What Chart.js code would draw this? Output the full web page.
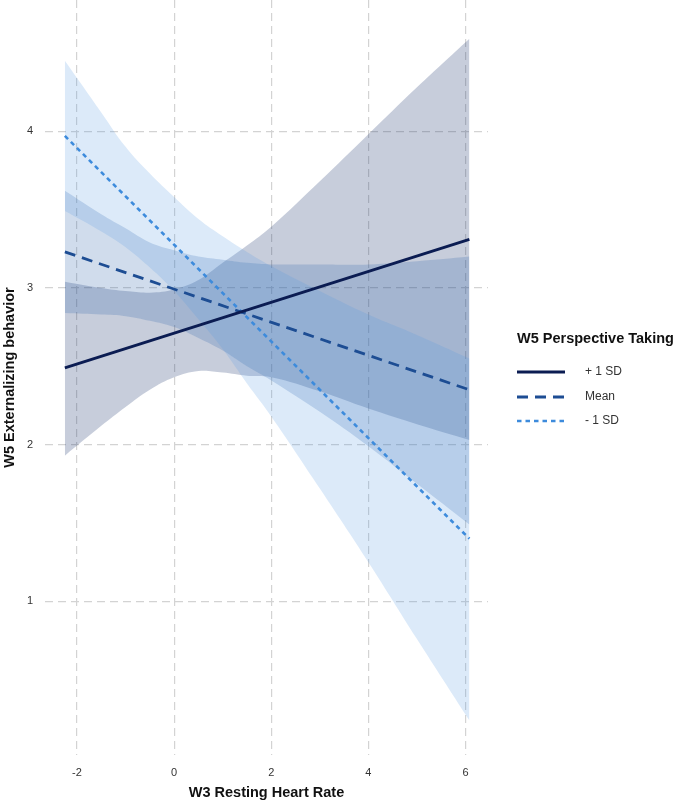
<!DOCTYPE html>
<html>
<head>
<meta charset="utf-8">
<script src="https://cdn.jsdelivr.net/npm/chart.js@4.4.1/dist/chart.umd.min.js"></script>
<style>
  html, body { margin: 0; padding: 0; background: #fff; }
  #wrap { width: 685px; height: 805px; }
</style>
</head>
<body>
<div id="wrap"><canvas id="chart" width="685" height="805"></canvas></div>
<script>
// axis ticks
const xTicks = [-2, 0, 2, 4, 6];
const yTicks = [1, 2, 3, 4];

const bandX = [-2.25, -1.5, -1, -0.5, 0, 0.5, 1, 1.5, 2, 3, 4, 5, 6.08];

// + 1 SD ribbon
const plusUpper = [3.04, 3.00, 2.98, 2.97, 2.99, 3.05, 3.16, 3.27, 3.39, 3.68, 3.98, 4.28, 4.59];
const plusLower = [1.93, 2.12, 2.24, 2.35, 2.43, 2.47, 2.46, 2.44, 2.43, 2.34, 2.23, 2.13, 2.03];
// Mean ribbon
const meanUpper = [3.62, 3.47, 3.38, 3.29, 3.24, 3.20, 3.18, 3.16, 3.15, 3.15, 3.15, 3.17, 3.20];
const meanLower = [2.84, 2.83, 2.82, 2.79, 2.75, 2.68, 2.60, 2.50, 2.41, 2.21, 1.99, 1.75, 1.49];
// - 1 SD ribbon
const minusUpper = [4.45, 4.12, 3.90, 3.73, 3.58, 3.44, 3.33, 3.23, 3.14, 2.98, 2.83, 2.70, 2.55];
const minusLower = [3.49, 3.36, 3.26, 3.13, 2.98, 2.80, 2.61, 2.39, 2.18, 1.72, 1.25, 0.76, 0.24];

// fitted lines (endpoints)
const lineX = [-2.25, 6.08];
const plusLine = [2.49, 3.31];
const meanLine = [3.23, 2.35];
const minusLine = [3.97, 1.40];

const groups = ['+ 1 SD', 'Mean', '- 1 SD'];
const legendTitle = 'W5 Perspective Taking';

const pts = (xs, ys) => xs.map((x, i) => ({ x: x, y: ys[i] }));

const band = (upper, lower, color, order) => [
  { data: pts(bandX, upper), borderColor: 'rgba(0,0,0,0)', pointRadius: 0, fill: false,
    tension: 0.4, order: order },
  { data: pts(bandX, lower), borderColor: 'rgba(0,0,0,0)', pointRadius: 0, fill: '-1',
    backgroundColor: color, tension: 0.4, order: order }
];

const lines = [
  { label: groups[0], data: pts(lineX, plusLine), borderColor: '#0b1c52', borderWidth: 2.8,
    pointRadius: 0, fill: false, order: 0 },
  { label: groups[1], data: pts(lineX, meanLine), borderColor: '#1d4d93', borderWidth: 2.8,
    borderDash: [11, 7], pointRadius: 0, fill: false, order: 0 },
  { label: groups[2], data: pts(lineX, minusLine), borderColor: '#3d8bdc', borderWidth: 2.6,
    borderDash: [4.5, 4], pointRadius: 0, fill: false, order: 0 }
];

const datasets = [
  ...band(plusUpper, plusLower, 'rgba(20,45,105,0.24)', 5),
  ...band(meanUpper, meanLower, 'rgba(40,95,170,0.22)', 4),
  ...band(minusUpper, minusLower, 'rgba(80,150,225,0.20)', 3),
  ...lines
];

const sideLegend = {
  id: 'sideLegend',
  afterDraw(chart) {
    const ctx = chart.ctx;
    ctx.save();
    ctx.textBaseline = 'middle';
    ctx.fillStyle = '#111';
    ctx.font = 'bold 14.5px "Liberation Sans", Arial, sans-serif';
    ctx.fillText(legendTitle, 517, 339);
    const rows = [372, 397, 421];
    lines.forEach((ds, i) => {
      ctx.strokeStyle = ds.borderColor;
      ctx.lineWidth = ds.borderWidth;
      ctx.setLineDash(ds.borderDash || []);
      ctx.beginPath();
      ctx.moveTo(517, rows[i]);
      ctx.lineTo(565, rows[i]);
      ctx.stroke();
      ctx.setLineDash([]);
      ctx.fillStyle = '#333';
      ctx.font = '12px "Liberation Sans", Arial, sans-serif';
      ctx.fillText(ds.label, 585, rows[i]);
    });
    ctx.restore();
  }
};

const gridOpts = { color: '#d3d3d3', lineWidth: 1.2, drawTicks: false };
const tickFont = { family: '"Liberation Sans", Arial, sans-serif', size: 11 };
const titleFont = { family: '"Liberation Sans", Arial, sans-serif', size: 14.5, weight: 'bold' };

new Chart(document.getElementById('chart'), {
  type: 'line',
  data: { datasets: datasets },
  options: {
    responsive: false,
    animation: false,
    devicePixelRatio: 1,
    layout: { padding: { right: 197, top: 0, left: 0, bottom: 0 } },
    plugins: { legend: { display: false }, tooltip: { enabled: false } },
    scales: {
      x: {
        type: 'linear',
        min: -2.659, max: 6.463,
        grid: gridOpts,
        border: { display: false, dash: [8, 5] },
        ticks: { font: tickFont, color: '#333', padding: 11 },
        afterBuildTicks: (s) => { s.ticks = xTicks.map(v => ({ value: v })); },
        afterFit: (s) => { s.height = 50; s.paddingLeft = 0; s.paddingRight = 0; },
        title: { display: true, text: 'W3 Resting Heart Rate', font: titleFont, color: '#111',
                 padding: { top: 0, bottom: 3 } }
      },
      y: {
        type: 'linear',
        min: 0.02, max: 4.837,
        grid: gridOpts,
        border: { display: false, dash: [8, 5] },
        ticks: { font: tickFont, color: '#333', padding: 12 },
        afterBuildTicks: (s) => { s.ticks = yTicks.map(v => ({ value: v })); },
        afterFit: (s) => { s.width = 45; s.paddingTop = 0; s.paddingBottom = 0; },
        title: { display: true, text: 'W5 Externalizing behavior', font: titleFont, color: '#111',
                 padding: { top: 1, bottom: 0 } }
      }
    }
  },
  plugins: [sideLegend]
});
</script>
</body>
</html>
